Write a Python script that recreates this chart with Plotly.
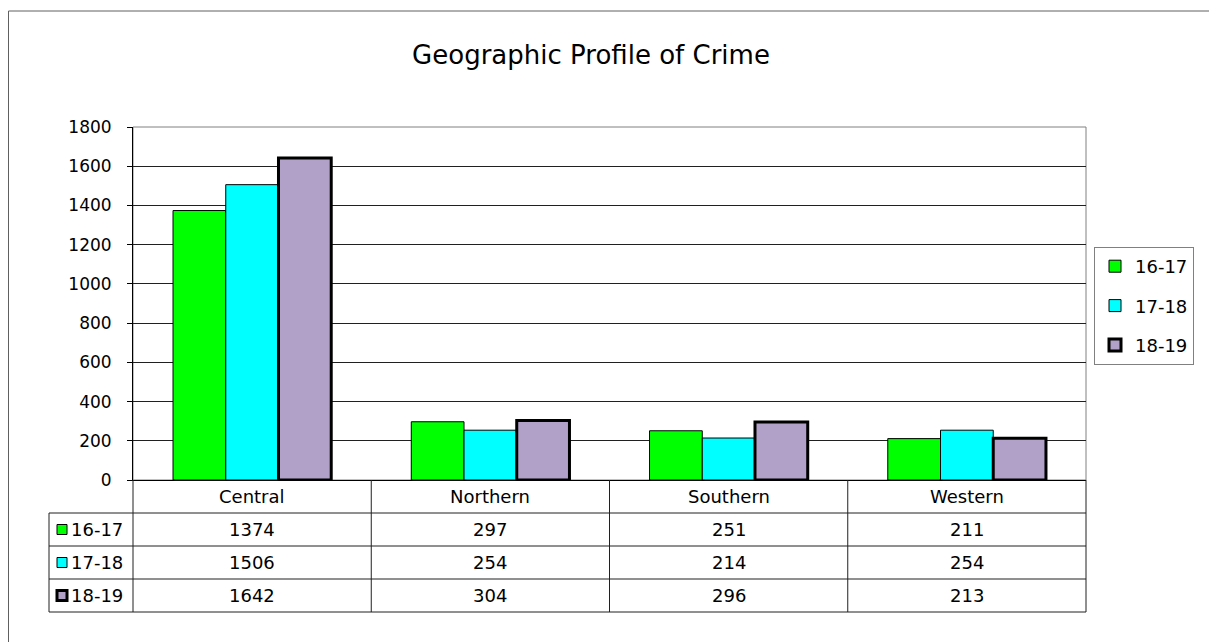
import plotly.graph_objects as go

categories = ["Central", "Northern", "Southern", "Western"]
series_names = ["16-17", "17-18", "18-19"]
values_16_17 = [1374, 297, 251, 211]
values_17_18 = [1506, 254, 214, 254]
values_18_19 = [1642, 304, 296, 213]
y_ticks = [0, 200, 400, 600, 800, 1000, 1200, 1400, 1600, 1800]

series_values = [values_16_17, values_17_18, values_18_19]
colors = ["#00FF00", "#00FFFF", "#B1A0C7"]
line_widths = [1, 1, 3]

FONT = "DejaVu Sans"
TFS = 18  # table font size
# page body margin offset
OFF = 8
W_PX, H_PX = 1217, 642
FIG_W, FIG_H = W_PX - OFF, H_PX - OFF
L, R, T, B = 133, 1086, 127, 480
PW, PH = R - L, B - T


def px(x):
    return (x - L) / PW


def py(y):
    return (B - y) / PH


fig = go.Figure()
for name, vals, col, lw in zip(series_names, series_values, colors, line_widths):
    fig.add_trace(go.Bar(
        x=categories, y=vals, name=name, legendgroup=name,
        marker=dict(color=col, line=dict(color="black", width=lw)),
    ))

shapes = []
# plot area border (gray)
shapes.append(dict(type="rect", xref="paper", yref="paper", x0=0, x1=1, y0=0, y1=1,
                   line=dict(color="#808080", width=1), layer="between"))
# outer chart border (top and left visible)
shapes.append(dict(type="line", xref="paper", yref="paper", x0=px(8.5), x1=px(1217),
                   y0=py(11), y1=py(11), line=dict(color="#606060", width=1)))
shapes.append(dict(type="line", xref="paper", yref="paper", x0=px(8.5), x1=px(8.5),
                   y0=py(11), y1=py(642), line=dict(color="#606060", width=1)))

# data table
row_h = 33
table_top = B
rows_y = [table_top + row_h * (i + 1) for i in range(len(series_names) + 1)]
table_bottom = rows_y[-1]
left_col = 49
tcol = "#202020"
for ry in rows_y:
    shapes.append(dict(type="line", xref="paper", yref="paper", x0=px(left_col), x1=1,
                       y0=py(ry), y1=py(ry), line=dict(color=tcol, width=1)))
shapes.append(dict(type="line", xref="paper", yref="paper", x0=px(left_col), x1=px(left_col),
                   y0=py(rows_y[0]), y1=py(table_bottom), line=dict(color=tcol, width=1)))
n = len(categories)
for i in range(n + 1):
    shapes.append(dict(type="line", xref="paper", yref="paper", x0=i / n, x1=i / n,
                       y0=0, y1=py(table_bottom), line=dict(color=tcol, width=1)))

annotations = []
for c in categories:
    annotations.append(dict(x=c, xref="x", y=py(table_top + row_h / 2), yref="paper",
                            text=c, showarrow=False, font=dict(family=FONT, size=TFS, color="black"),
                            xanchor="center", yanchor="middle"))
for ri, (name, vals, col, lw) in enumerate(zip(series_names, series_values, colors, line_widths)):
    yc = rows_y[ri] + row_h / 2
    for c, v in zip(categories, vals):
        annotations.append(dict(x=c, xref="x", y=py(yc), yref="paper", text=str(v),
                                showarrow=False, font=dict(family=FONT, size=TFS, color="black"),
                                xanchor="center", yanchor="middle"))
    shapes.append(dict(type="rect", xref="paper", yref="paper",
                       x0=px(57), x1=px(67), y0=py(yc - 5), y1=py(yc + 5),
                       fillcolor=col, line=dict(color="black", width=lw)))
    annotations.append(dict(x=px(69), xref="paper", y=py(yc), yref="paper", text=name,
                            showarrow=False, font=dict(family=FONT, size=TFS, color="black"),
                            xanchor="left", yanchor="middle"))

fig.update_layout(
    width=FIG_W, height=FIG_H,
    margin=dict(l=L - OFF, r=W_PX - R, t=T - OFF, b=H_PX - B, autoexpand=False),
    paper_bgcolor="white", plot_bgcolor="white",
    font=dict(family=FONT, size=17, color="black"),
    title=dict(text="Geographic Profile of Crime", x=(591 - OFF) / FIG_W, xref="container",
               xanchor="center", y=1 - (55 - OFF) / FIG_H, yref="container", yanchor="middle",
               font=dict(family=FONT, size=26, color="black")),
    barmode="group", bargap=0.336, bargroupgap=0,
    xaxis=dict(showticklabels=False, showgrid=False, ticks="", showline=True,
               linecolor="black", linewidth=1, zeroline=False, fixedrange=True),
    yaxis=dict(range=[0, 1800], tickvals=y_ticks, showgrid=True, gridcolor="#202020",
               gridwidth=1, showline=True, linecolor="black", linewidth=1,
               ticks="outside", ticklen=5, tickcolor="black", zeroline=False,
               ticklabelstandoff=12, tickfont=dict(family=FONT, size=17, color="black")),
    legend=dict(x=px(1094), y=py(247), xanchor="left", yanchor="top",
                bordercolor="#808080", borderwidth=1, bgcolor="white",
                font=dict(family=FONT, size=18, color="black"),
                tracegroupgap=13, itemwidth=30),
    shapes=shapes, annotations=annotations,
)

fig.write_html("out.html")
